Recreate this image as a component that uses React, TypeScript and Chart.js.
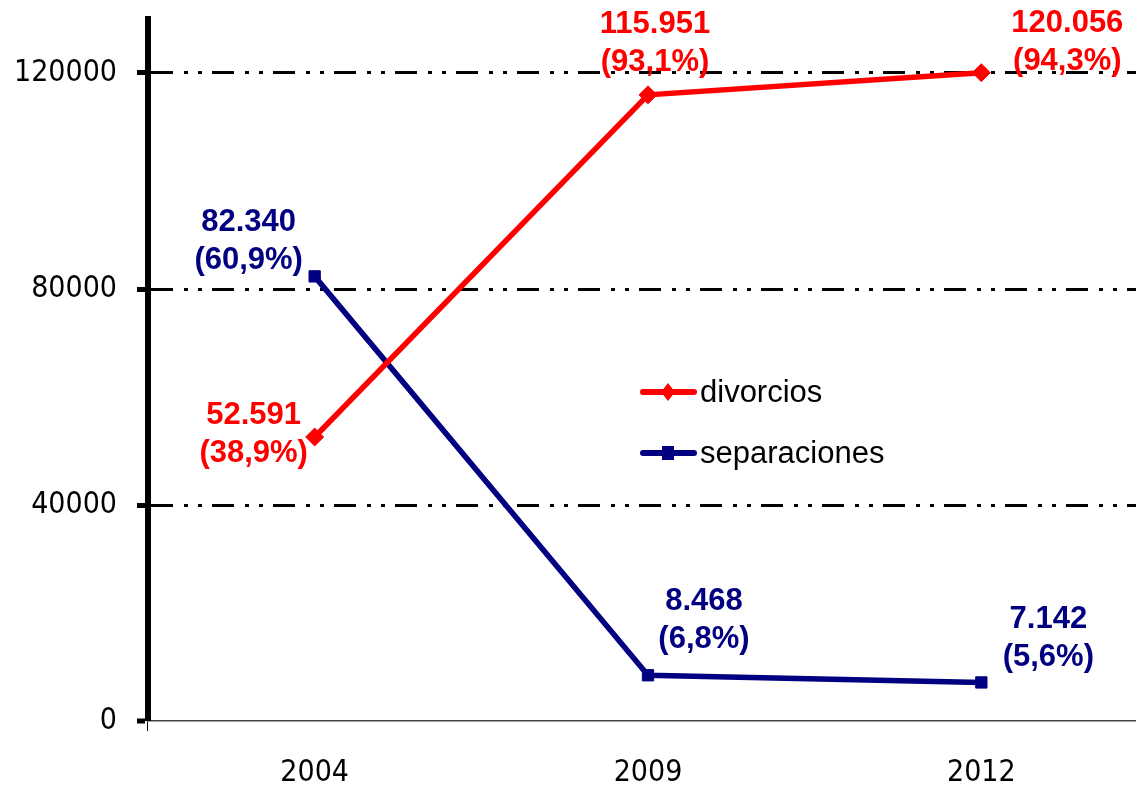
import { useEffect, useRef } from 'react';
import { Chart, registerables } from 'chart.js';

Chart.register(...registerables);

const categories = ['2004', '2009', '2012'];
const divorcios = [52591, 115951, 120056];
const separaciones = [82340, 8468, 7142];
const divorciosPct = [38.9, 93.1, 94.3];
const separacionesPct = [60.9, 6.8, 5.6];
const yTicks = [0, 40000, 80000, 120000];
const seriesNames = ['divorcios', 'separaciones'];

const RED = '#FF0000';
const NAVY = '#000080';
const TICK_FONT = '"DejaVu Sans Condensed", "DejaVu Sans", Verdana, sans-serif';
const LABEL_FONT = '"Liberation Sans", Arial, sans-serif';

// label block centre offsets (px) relative to each point
const labelOffsets = [
  [[-61, -3], [7, -51], [86, -30]],
  [[-66, -35], [56, -55], [67, -44]],
];

const fmtNum = (v: number) => String(v).replace(/\B(?=(\d{3})+(?!\d))/g, '.');
const fmtPct = (p: number) => '(' + p.toFixed(1).replace('.', ',') + '%)';

const labelsPlugin = {
  id: 'pointLabels',
  afterDatasetsDraw(chart: any) {
    const ctx = chart.ctx;
    const pcts = [divorciosPct, separacionesPct];
    const vals = [divorcios, separaciones];
    const colors = [RED, NAVY];
    ctx.save();
    ctx.font = `bold 31px ${LABEL_FONT}`;
    ctx.textAlign = 'center';
    ctx.textBaseline = 'middle';
    for (let d = 0; d < 2; d++) {
      const meta = chart.getDatasetMeta(d);
      ctx.fillStyle = colors[d];
      meta.data.forEach((pt: any, i: number) => {
        const [dx, dy] = labelOffsets[d][i];
        ctx.fillText(fmtNum(vals[d][i]), pt.x + dx, pt.y + dy - 19);
        ctx.fillText(fmtPct(pcts[d][i]), pt.x + dx, pt.y + dy + 19);
      });
    }
    ctx.restore();
  },
  afterDraw(chart: any) {
    // legend
    const ctx = chart.ctx;
    const items = [
      { name: seriesNames[0], color: RED, style: 'diamond', y: 392 },
      { name: seriesNames[1], color: NAVY, style: 'square', y: 453 },
    ];
    ctx.save();
    for (const it of items) {
      ctx.strokeStyle = it.color;
      ctx.fillStyle = it.color;
      ctx.lineWidth = 6;
      ctx.lineCap = 'round';
      ctx.beginPath();
      ctx.moveTo(643, it.y);
      ctx.lineTo(694, it.y);
      ctx.stroke();
      const cx = 668;
      ctx.beginPath();
      if (it.style === 'diamond') {
        ctx.moveTo(cx, it.y - 9);
        ctx.lineTo(cx + 7, it.y);
        ctx.lineTo(cx, it.y + 9);
        ctx.lineTo(cx - 7, it.y);
        ctx.closePath();
      } else {
        ctx.rect(cx - 6, it.y - 7, 12, 14);
      }
      ctx.fill();
      ctx.font = `31px ${LABEL_FONT}`;
      ctx.textAlign = 'left';
      ctx.textBaseline = 'middle';
      ctx.fillStyle = '#000';
      ctx.fillText(it.name, 700, it.y + 1);
    }
    ctx.restore();
  },
};

export default function App() {
  const ref = useRef<HTMLCanvasElement>(null);
  useEffect(() => {
    document.body.style.margin = '0';
    const chart = new Chart(ref.current!, {
      type: 'line',
      data: {
        labels: categories,
        datasets: [
          {
            label: seriesNames[0],
            data: divorcios,
            borderColor: RED,
            backgroundColor: RED,
            borderWidth: 5.5,
            pointStyle: 'rectRot',
            pointRadius: 9,
            pointBorderWidth: 1,
            pointBackgroundColor: RED,
            pointBorderColor: RED,
            tension: 0,
          },
          {
            label: seriesNames[1],
            data: separaciones,
            borderColor: NAVY,
            backgroundColor: NAVY,
            borderWidth: 5.5,
            pointStyle: 'rect',
            pointRadius: 8,
            pointBorderWidth: 1,
            pointBackgroundColor: NAVY,
            pointBorderColor: NAVY,
            tension: 0,
          },
        ],
      },
      options: {
        responsive: false,
        animation: false,
        layout: { autoPadding: false, padding: { top: 19, left: 0, right: 0, bottom: 0 } },
        plugins: { legend: { display: false }, tooltip: { enabled: false } },
        scales: {
          x: {
            offset: true,
            grid: {
              display: true,
              offset: true,
              drawOnChartArea: false,
              drawTicks: true,
              tickLength: 10,
              tickWidth: 1,
              tickColor: (c: any) => (c.index === 0 ? '#000' : 'rgba(0,0,0,0)'),
            },
            border: { display: true, color: '#444', width: 1.5 },
            ticks: {
              color: '#000',
              font: { family: TICK_FONT, size: 30 },
              padding: 24,
              maxRotation: 0,
            },
            afterFit: (s: any) => {
              s.height = 67;
              s.paddingLeft = 0;
              s.paddingRight = 0;
              s.paddingTop = 0;
              s.paddingBottom = 0;
            },
          },
          y: {
            min: 0,
            max: 130000,
            afterBuildTicks: (s: any) => {
              s.ticks = yTicks.map((v) => ({ value: v }));
            },
            afterFit: (s: any) => {
              s.width = 148;
              s.paddingLeft = 0;
              s.paddingRight = 0;
              s.paddingTop = 0;
              s.paddingBottom = 0;
            },
            grid: {
              color: '#000',
              lineWidth: (c: any) => (c.tick && c.tick.value === 0 ? 0 : 3),
              drawTicks: true,
              tickLength: 11,
              tickWidth: 5,
              tickColor: '#000',
            },
            border: { display: true, color: '#000', width: 6, dash: [22, 11, 4, 10, 4, 10] },
            ticks: {
              color: '#000',
              font: { family: TICK_FONT, size: 30 },
              padding: 20,
              callback: (v: any) => String(v),
            },
          },
        },
      },
      plugins: [labelsPlugin],
    });
    return () => chart.destroy();
  }, []);
  return (
    <div style={{ position: 'fixed', left: 0, top: 0, width: 1136, height: 788, overflow: 'hidden', background: '#fff' }}>
      <div style={{ position: 'absolute', left: 0, top: 0, width: 1148, height: 788 }}>
        <canvas ref={ref} width={1148} height={788} style={{ display: 'block', width: 1148, height: 788 }} />
      </div>
    </div>
  );
}
